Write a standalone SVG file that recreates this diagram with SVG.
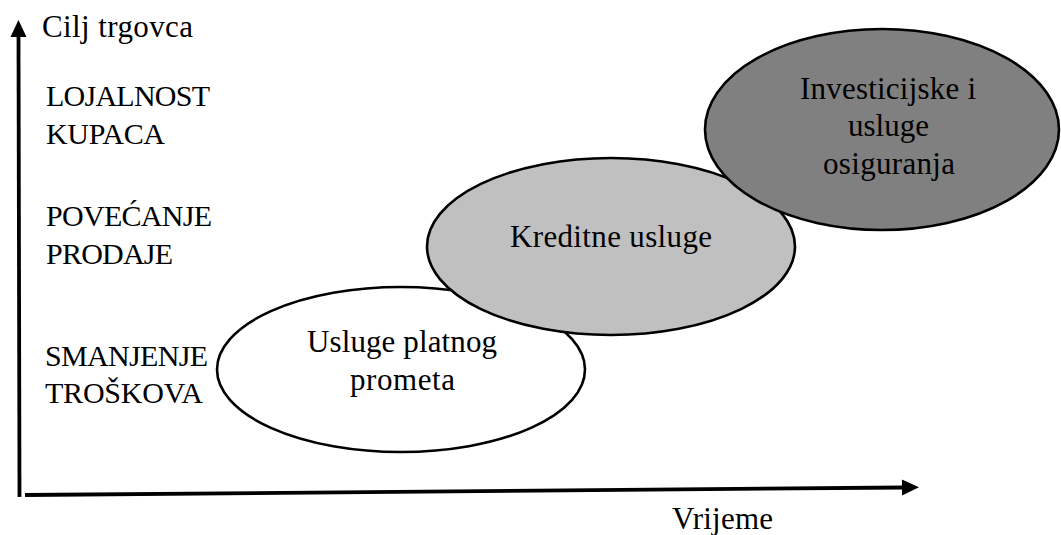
<svg xmlns="http://www.w3.org/2000/svg" width="1061" height="535" viewBox="0 0 1061 535" font-family="'Liberation Serif', 'Times New Roman', 'DejaVu Serif', serif">
<style>
.lbl{font-size:30px;font-family:'Liberation Serif','Times New Roman','DejaVu Serif',serif}
.t{font-size:31px;font-family:'Liberation Serif','Times New Roman','DejaVu Serif',serif}
.node ellipse{stroke:#000;stroke-width:2.6}
.axis{stroke:#000;stroke-width:3.8;fill:none}
</style>
<defs>
<marker id="arr" markerUnits="userSpaceOnUse" markerWidth="18" markerHeight="16" refX="2" refY="8" orient="auto" overflow="visible">
<path d="M0,0 L17,8 L0,16 Z" fill="#000"/>
</marker>
</defs>
<rect width="1061" height="535" fill="#fff"/>
<g id="connectors">
<line class="axis" x1="19.5" y1="497" x2="18.5" y2="35" marker-end="url(#arr)"/>
<line class="axis" x1="25" y1="495" x2="904" y2="487.5" marker-end="url(#arr)"/>
</g>
<g id="labels" fill="#000">
<text class="t" x="42" y="37" textLength="151" lengthAdjust="spacing">Cilj trgovca</text>
<text class="lbl" x="46" y="106" textLength="164" lengthAdjust="spacing">LOJALNOST</text>
<text class="lbl" x="46" y="144" textLength="119" lengthAdjust="spacing">KUPACA</text>
<text class="lbl" x="46" y="226" textLength="166" lengthAdjust="spacing">POVEĆANJE</text>
<text class="lbl" x="46" y="264" textLength="127" lengthAdjust="spacing">PRODAJE</text>
<text class="lbl" x="45" y="366" textLength="163" lengthAdjust="spacing">SMANJENJE</text>
<text class="lbl" x="45" y="403" textLength="158" lengthAdjust="spacing">TROŠKOVA</text>
<text class="t" x="672" y="529" textLength="101" lengthAdjust="spacing">Vrijeme</text>
</g>
<g id="node-platni" class="node">
<ellipse cx="401" cy="369.5" rx="184" ry="82.5" fill="#ffffff"/>
<text class="t" x="307" y="352" textLength="190" lengthAdjust="spacing">Usluge platnog</text>
<text class="t" x="350" y="390" textLength="105" lengthAdjust="spacing">prometa</text>
</g>
<g id="node-kreditne" class="node">
<ellipse cx="611" cy="246.5" rx="184" ry="88.5" fill="#c0c0c0"/>
<text class="t" x="510" y="247" textLength="202" lengthAdjust="spacing">Kreditne usluge</text>
</g>
<g id="node-investicijske" class="node">
<ellipse cx="882" cy="129.5" rx="177" ry="100.5" fill="#808080"/>
<text class="t" x="800" y="99" textLength="176" lengthAdjust="spacing">Investicijske i</text>
<text class="t" x="848" y="136" textLength="81" lengthAdjust="spacing">usluge</text>
<text class="t" x="823" y="174" textLength="132" lengthAdjust="spacing">osiguranja</text>
</g>
</svg>
